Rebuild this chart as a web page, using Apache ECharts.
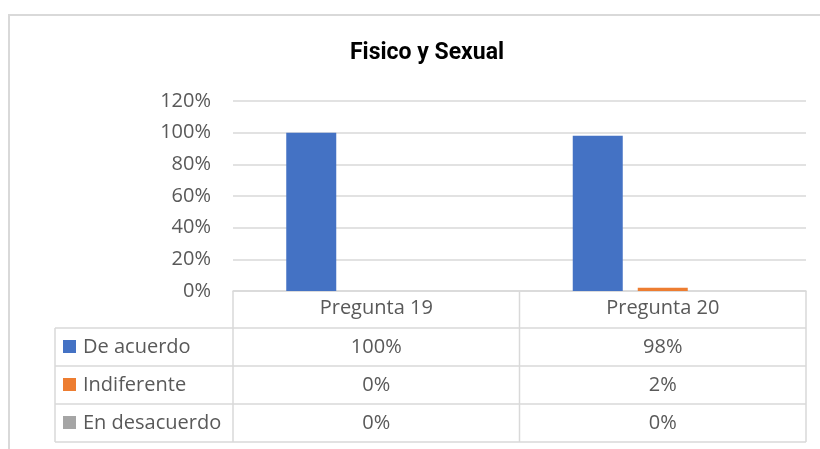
<!DOCTYPE html>
<html>
<head>
<meta charset="utf-8">
<script src="https://cdn.jsdelivr.net/npm/echarts@6/dist/echarts.min.js"></script>
<style>
  html, body { margin: 0; padding: 0; background: #fff; }
  #chart { width: 820px; height: 449px; }
</style>
</head>
<body>
<div id="chart"></div>
<script>
// Chart data
const title = 'Fisico y Sexual';
const categories = ['Pregunta 19', 'Pregunta 20'];
const seriesNames = ['De acuerdo', 'Indiferente', 'En desacuerdo'];
const deAcuerdo = [1.00, 0.98];
const indiferente = [0.00, 0.02];
const enDesacuerdo = [0.00, 0.00];
const yTicks = [0, 0.2, 0.4, 0.6, 0.8, 1.0, 1.2];

const seriesValues = [deAcuerdo, indiferente, enDesacuerdo];
const colors = ['#4472C4', '#ED7D31', '#A5A5A5'];
const textColor = '#595959';
const lineColor = '#d9d9d9';
const font = '"Open Sans", sans-serif';

const pct = v => Math.round(v * 100) + '%';

const chart = echarts.init(document.getElementById('chart'), null, { renderer: 'canvas' });

const option = {
  animation: false,
  backgroundColor: '#fff',
  title: {
    text: title,
    left: 422,
    textAlign: 'center',
    top: 37,
    textStyle: { fontFamily: 'Roboto, sans-serif', fontWeight: 'bold', fontSize: 23, color: '#000' }
  },
  grid: { left: 233, right: 14, top: 101, bottom: 158, containLabel: false },
  xAxis: {
    type: 'category',
    data: categories,
    axisTick: { show: false },
    axisLine: { lineStyle: { color: lineColor, width: 1.5 } },
    axisLabel: { color: textColor, fontFamily: font, fontSize: 20, margin: 7 }
  },
  yAxis: {
    type: 'value',
    min: yTicks[0],
    max: yTicks[yTicks.length - 1],
    interval: yTicks[1] - yTicks[0],
    axisLine: { show: false },
    axisTick: { show: false },
    splitLine: { lineStyle: { color: lineColor, width: 1.5 } },
    axisLabel: { color: textColor, fontFamily: font, fontSize: 20, margin: 22, formatter: v => pct(v) }
  },
  series: seriesNames.map((name, i) => ({
    name: name,
    type: 'bar',
    data: seriesValues[i],
    barWidth: 50,
    barGap: '30%',
    itemStyle: { color: colors[i] }
  }))
};
chart.setOption(option);

// Data table under the category axis
function drawTable() {
  const tableLeft = 55;
  const axisLeft = 233;
  const axisRight = 806;
  const top = chart.convertToPixel({ yAxisIndex: 0 }, 0);
  const headerH = 37;
  const rowH = 38;
  const rowsTop = top + headerH;
  const bottom = rowsTop + rowH * seriesNames.length;
  const step = (axisRight - axisLeft) / categories.length;
  const els = [];
  const stroke = { stroke: lineColor, lineWidth: 1.5 };

  // outer frame of the chart area
  els.push({ type: 'rect', shape: { x: 9, y: 15, width: 900, height: 500 },
    style: { fill: null, stroke: lineColor, lineWidth: 2 }, silent: true });

  // horizontal rules
  for (let r = 0; r <= seriesNames.length; r++) {
    const y = rowsTop + r * rowH;
    els.push({ type: 'line', shape: { x1: tableLeft, y1: y, x2: axisRight, y2: y }, style: stroke });
  }
  // vertical rules
  els.push({ type: 'line', shape: { x1: tableLeft, y1: rowsTop, x2: tableLeft, y2: bottom }, style: stroke });
  for (let c = 0; c <= categories.length; c++) {
    const x = axisLeft + c * step;
    els.push({ type: 'line', shape: { x1: x, y1: top, x2: x, y2: bottom }, style: stroke });
  }

  seriesNames.forEach((name, r) => {
    const cy = rowsTop + r * rowH + rowH / 2;
    els.push({ type: 'rect', shape: { x: 63, y: cy - 7, width: 13, height: 13 }, style: { fill: colors[r] } });
    els.push({ type: 'text', x: 83, y: cy, style: {
      text: name, fill: textColor, font: '20px ' + font, textAlign: 'left', textVerticalAlign: 'middle' } });
    categories.forEach((cat, c) => {
      const cx = chart.convertToPixel({ xAxisIndex: 0 }, cat);
      els.push({ type: 'text', x: cx, y: cy, style: {
        text: pct(seriesValues[r][c]), fill: textColor, font: '20px ' + font,
        textAlign: 'center', textVerticalAlign: 'middle' } });
    });
  });

  chart.setOption({ graphic: { elements: els } });
}
drawTable();
</script>
</body>
</html>
